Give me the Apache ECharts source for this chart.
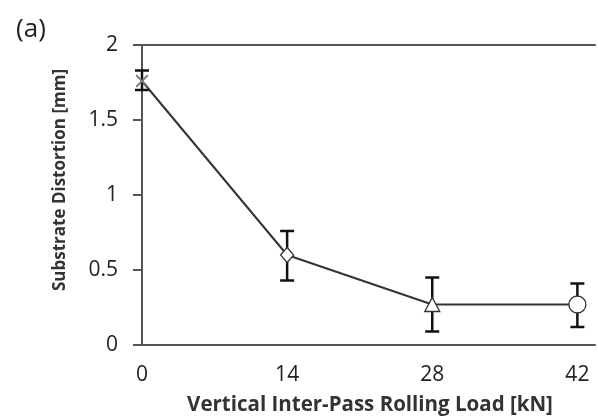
<!DOCTYPE html>
<html><head><meta charset="utf-8">
<script src="https://cdn.jsdelivr.net/npm/echarts@6/dist/echarts.min.js"></script>
<style>html,body{margin:0;padding:0;background:#fff}#c{width:598px;height:417px}</style>
</head><body><div id="c"></div>
<script>
const loads = [0, 14, 28, 42];
const distortion = [1.76, 0.60, 0.27, 0.27];
const errLow = [1.70, 0.43, 0.09, 0.12];
const errHigh = [1.83, 0.76, 0.45, 0.41];
const xTicks = [0, 14, 28, 42];
const yTicks = [0, 0.5, 1, 1.5, 2];
const xTitle = 'Vertical Inter-Pass Rolling Load [kN]';
const yTitle = 'Substrate Distortion [mm]';
const panelLabel = '(a)';

const FONT = '"Open Sans", "Liberation Sans", sans-serif';
const crossPath = 'path://M0,1 L1,0 L5,4 L9,0 L10,1 L6,5 L10,9 L9,10 L5,6 L1,10 L0,9 L4,5 Z';
const symbols = [crossPath, 'diamond', 'triangle', 'circle'];
const sizes = [[13,13], [13,15], [15,14], [17,17]];

const chart = echarts.init(document.getElementById('c'), null, {renderer: 'canvas'});
const lineData = loads.map((x, i) => ({
  value: [x, distortion[i]],
  symbol: symbols[i],
  symbolSize: sizes[i],
  itemStyle: i === 0 ? {color: '#777', borderWidth: 0} : {color: '#fff', borderColor: '#333', borderWidth: 1.3}
}));
const errData = loads.map((x, i) => [x, errLow[i], errHigh[i]]);

chart.setOption({
  animation: false,
  backgroundColor: '#fff',
  grid: {left: 142, top: 45, right: 3, bottom: 72, containLabel: false},
  xAxis: [{
    type: 'value', min: 0, max: 43.7, interval: 14,
    axisLine: {show: true, lineStyle: {color: '#555', width: 2}},
    axisTick: {show: false},
    splitLine: {show: false},
    axisLabel: {showMaxLabel: false, margin: 20, fontFamily: FONT, fontSize: 21, color: '#222',
      formatter: v => xTicks.includes(v) ? String(v) : ''}
  }, {
    type: 'value', min: 0, max: 43.7, position: 'top',
    axisLine: {show: true, onZero: false, lineStyle: {color: '#555', width: 2}},
    axisTick: {show: false}, axisLabel: {show: false}, splitLine: {show: false}
  }],
  yAxis: {
    type: 'value', min: 0, max: 2, interval: 0.5,
    axisLine: {show: true, lineStyle: {color: '#555', width: 2}},
    axisTick: {show: true, inside: false, length: 9, lineStyle: {color: '#555', width: 2}},
    splitLine: {show: false},
    axisLabel: {margin: 24, fontFamily: FONT, fontSize: 21, color: '#222',
      formatter: v => yTicks.includes(v) ? String(v) : ''}
  },
  graphic: [
    {type: 'text', x: 31, y: 30, style: {text: panelLabel, font: '26px ' + FONT, fill: '#222', align: 'center', verticalAlign: 'middle'}},
    {type: 'text', x: 370, y: 405, style: {text: xTitle, font: 'bold 20.5px ' + FONT, fill: '#333', align: 'center', verticalAlign: 'middle'}},
    {type: 'text', x: 60, y: 180, rotation: Math.PI / 2, style: {text: yTitle, font: 'bold 17px ' + FONT, fill: '#333', align: 'center', verticalAlign: 'middle'}}
  ],
  series: [{
    type: 'line', data: lineData, z: 3,
    lineStyle: {color: '#333', width: 2},
    showAllSymbol: true
  }, {
    type: 'custom', z: 2,
    data: errData,
    renderItem: (params, api) => {
      const x = api.value(0);
      const lo = api.coord([x, api.value(1)]);
      const hi = api.coord([x, api.value(2)]);
      const hw = 7;
      const st = {stroke: '#111', lineWidth: 2.5};
      return {type: 'group', children: [
        {type: 'line', shape: {x1: lo[0], y1: lo[1], x2: hi[0], y2: hi[1]}, style: st},
        {type: 'line', shape: {x1: lo[0]-hw, y1: lo[1], x2: lo[0]+hw, y2: lo[1]}, style: st},
        {type: 'line', shape: {x1: hi[0]-hw, y1: hi[1], x2: hi[0]+hw, y2: hi[1]}, style: st}
      ]};
    }
  }]
});
</script></body></html>
